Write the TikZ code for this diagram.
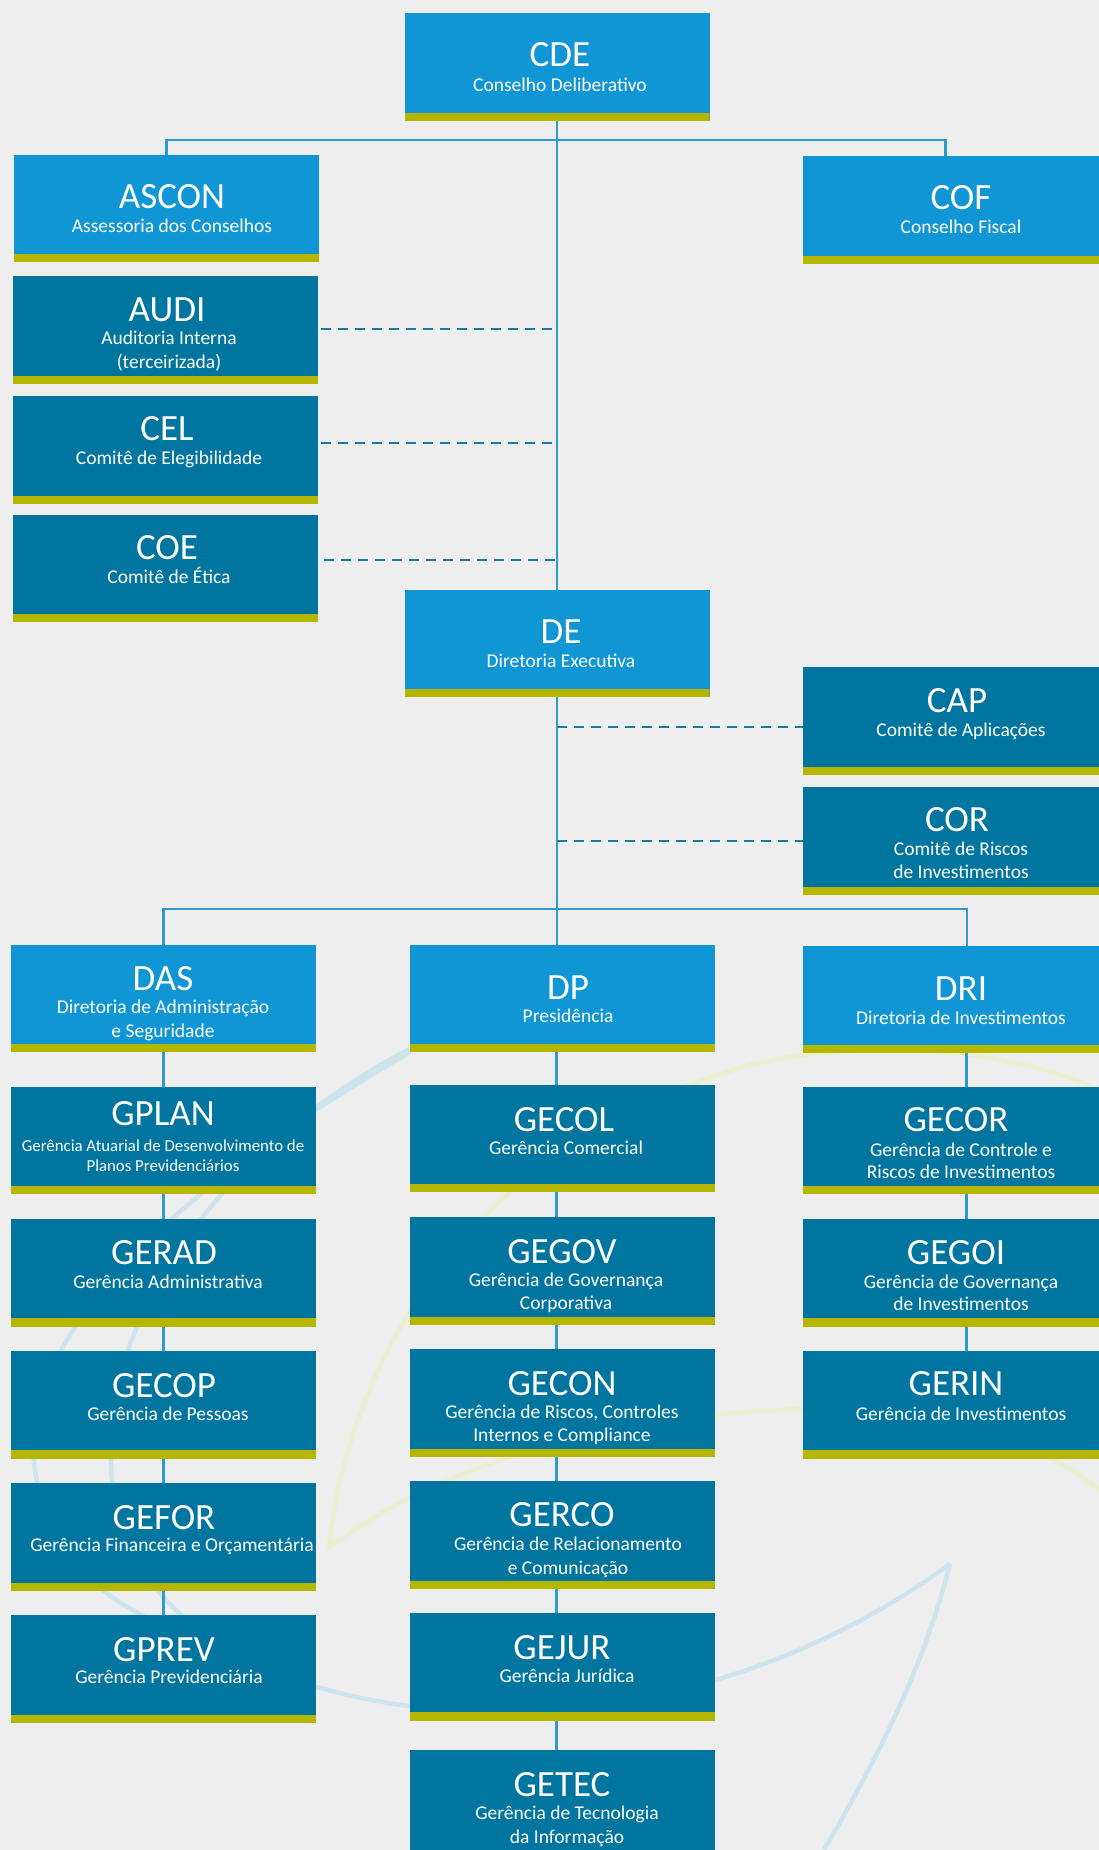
\documentclass[tikz,border=0pt]{standalone}
\usepackage{fontspec}
\setmainfont{Carlito}
\definecolor{bg}{HTML}{EEEEEE}
\definecolor{lblue}{HTML}{1096D4}
\definecolor{dteal}{HTML}{00759F}
\definecolor{olivebar}{HTML}{B5B600}
\definecolor{conn}{HTML}{2E9AD0}
\definecolor{dashc}{HTML}{1A7BA2}
\definecolor{curveblue}{HTML}{CDE4EE}
\definecolor{curveyellow}{HTML}{ECEFCF}
\begin{document}
\begin{tikzpicture}[x=1pt,y=-1pt,
  orgbox/.style={rectangle, inner sep=0pt, outer sep=0pt, minimum width=305pt, minimum height=108pt,
    path picture={\fill[olivebar] (path picture bounding box.south west) rectangle ([yshift=8.5pt]path picture bounding box.south east);}},
  lbox/.style={orgbox, fill=lblue},
  dbox/.style={orgbox, fill=dteal},
  rcol/.style={minimum width=307pt},
  ttl/.style={anchor=base, inner sep=0pt, text=white, font=\fontsize{37}{40}\selectfont},
  sub/.style={anchor=base, inner sep=0pt, text=white, font=\fontsize{19.5}{23}\selectfont},
  subsm/.style={anchor=base, inner sep=0pt, text=white, font=\fontsize{16.8}{20}\selectfont},
  connl/.style={draw=conn, line width=2.2pt},
  dashl/.style={draw=dashc, line width=2pt, dash pattern=on 10pt off 7pt},
  bgblue/.style={draw=curveblue, line width=4.5pt},
  bgyellow/.style={draw=curveyellow, line width=4.5pt},
]
\fill[bg] (0,0) rectangle (1099,1850);
\useasboundingbox (0,0) rectangle (1099,1850);

% background watermark curves
\draw[bgblue] (410,1049) .. controls (250,1130) and (95,1300) .. (112,1480) .. controls (130,1640) and (300,1705) .. (480,1712) .. controls (700,1715) and (860,1630) .. (950,1564);
\draw[bgblue] (950,1564) .. controls (920,1680) and (870,1770) .. (824,1850);
\draw[bgblue] (410,1052) .. controls (190,1180) and (15,1330) .. (35,1470) .. controls (48,1560) and (110,1605) .. (175,1630);
\draw[bgyellow] (329,1548) .. controls (350,1350) and (480,1140) .. (750,1065) .. controls (900,1030) and (1050,1060) .. (1120,1100);
\draw[bgyellow] (329,1548) .. controls (430,1470) and (600,1415) .. (803,1409) .. controls (950,1405) and (1060,1450) .. (1110,1500);

% boxes
\node[lbox] (cde) at (557,67) {};
\node[lbox, minimum height=107pt] (ascon) at (166.5,208.5) {};
\node[lbox, rcol] (cof) at (956.5,210) {};
\node[dbox] (audi) at (165.5,330) {};
\node[dbox] (cel) at (165.5,450) {};
\node[dbox, minimum height=107pt] (coe) at (165.5,568.5) {};
\node[lbox, minimum height=107pt] (de) at (557,643.5) {};
\node[dbox, rcol] (cap) at (956.5,721) {};
\node[dbox, rcol] (cor) at (956.5,841) {};
\node[lbox, minimum height=107pt] (das) at (163.5,998.5) {};
\node[lbox, minimum height=107pt] (dp) at (562.5,998.5) {};
\node[lbox, rcol, minimum height=107pt] (dri) at (956.5,999.5) {};
\node[dbox, minimum height=107pt] (gplan) at (163.5,1140.5) {};
\node[dbox, minimum height=107pt] (gecol) at (562.5,1138.5) {};
\node[dbox, rcol, minimum height=107pt] (gecor) at (956.5,1140.5) {};
\node[dbox, minimum height=107.5pt] (gerad) at (163.5,1272.75) {};
\node[dbox] (gegov) at (562.5,1271) {};
\node[dbox, rcol, minimum height=107.5pt] (gegoi) at (956.5,1272.75) {};
\node[dbox, minimum height=107.5pt] (gecop) at (163.5,1404.75) {};
\node[dbox] (gecon) at (562.5,1403) {};
\node[dbox, rcol, minimum height=107.5pt] (gerin) at (956.5,1404.75) {};
\node[dbox] (gefor) at (163.5,1537) {};
\node[dbox] (gerco) at (562.5,1535) {};
\node[dbox] (gprev) at (163.5,1669) {};
\node[dbox, minimum height=107.5pt] (gejur) at (562.5,1666.75) {};
\node[dbox] (getec) at (562.5,1804) {};

% solid connectors
\coordinate (bus1) at (557,139.6);
\coordinate (cofdrop) at ([xshift=-11pt]cof.north);
\draw[connl] (cde.south) -- (de.north);
\draw[connl] (ascon.north) |- (bus1) -| (cofdrop);
\coordinate (bus2) at (557,909);
\coordinate (dridrop) at ([xshift=10.5pt]dri.north);
\draw[connl] (de.south) -- (de.south |- dp.north);
\draw[connl] (das.north) |- (bus2) -| (dridrop);
\draw[connl] (das.south) -- (gplan.north);
\draw[connl] (gplan.south) -- (gerad.north);
\draw[connl] (gerad.south) -- (gecop.north);
\draw[connl] (gecop.south) -- (gefor.north);
\draw[connl] (gefor.south) -- (gprev.north);
\draw[connl] ([xshift=-6pt]dp.south) -- ([xshift=-6pt]gecol.north);
\draw[connl] ([xshift=-6pt]gecol.south) -- ([xshift=-6pt]gegov.north);
\draw[connl] ([xshift=-6pt]gegov.south) -- ([xshift=-6pt]gecon.north);
\draw[connl] ([xshift=-6pt]gecon.south) -- ([xshift=-6pt]gerco.north);
\draw[connl] ([xshift=-6pt]gerco.south) -- ([xshift=-6pt]gejur.north);
\draw[connl] ([xshift=-6pt]gejur.south) -- ([xshift=-6pt]getec.north);
\draw[connl] ([xshift=10pt]dri.south) -- ([xshift=10pt]gecor.north);
\draw[connl] ([xshift=10pt]gecor.south) -- ([xshift=10pt]gegoi.north);
\draw[connl] ([xshift=10pt]gegoi.south) -- ([xshift=10pt]gerin.north);

% dashed connectors
\coordinate (audid) at ([xshift=3pt,yshift=1pt]audi.east);
\coordinate (celd) at ([xshift=3pt,yshift=7pt]cel.east);
\coordinate (coed) at ([xshift=6pt,yshift=8.5pt]coe.east);
\coordinate (capd) at ([yshift=-6pt]cap.west);
\coordinate (cord) at (cor.west);
\draw[dashl] (audid) -- (audid -| de.north);
\draw[dashl] (celd) -- (celd -| de.north);
\draw[dashl] (coed) -- (coed -| de.north);
\draw[dashl] (capd -| de.south) -- (capd);
\draw[dashl] (cord -| de.south) -- (cord);

% texts
\node[ttl] (cde-t) at (560,66) {CDE};
\node[sub] (cde-s) at (560,91.5) {Conselho Deliberativo};
\node[ttl] (ascon-t) at (172,208) {ASCON};
\node[sub] (ascon-s) at (172,232) {Assessoria dos Conselhos};
\node[ttl] (cof-t) at (961,209) {COF};
\node[sub] (cof-s) at (961,233) {Conselho Fiscal};
\node[ttl] (audi-t) at (167,321.5) {AUDI};
\node[sub] (audi-s1) at (169,344.5) {Auditoria Interna};
\node[sub] (audi-s2) at (169,368) {(terceirizada)};
\node[ttl] (cel-t) at (167,440) {CEL};
\node[sub] (cel-s) at (169,464.5) {Comitê de Elegibilidade};
\node[ttl] (coe-t) at (167,559.5) {COE};
\node[sub] (coe-s) at (169,583.5) {Comitê de Ética};
\node[ttl] (de-t) at (561,643.5) {DE};
\node[sub] (de-s) at (561,667.5) {Diretoria Executiva};
\node[ttl] (cap-t) at (957,712) {CAP};
\node[sub] (cap-s) at (961,736) {Comitê de Aplicações};
\node[ttl] (cor-t) at (957,831) {COR};
\node[sub] (cor-s1) at (961,855.5) {Comitê de Riscos};
\node[sub] (cor-s2) at (961,878.5) {de Investimentos};
\node[ttl] (das-t) at (163,990.5) {DAS};
\node[sub] (das-s1) at (163,1013.5) {Diretoria de Administração};
\node[sub] (das-s2) at (163,1037) {e Seguridade};
\node[ttl] (dp-t) at (568,999) {DP};
\node[sub] (dp-s) at (568,1022.5) {Presidência};
\node[ttl] (dri-t) at (961,1000) {DRI};
\node[sub] (dri-s) at (961,1024) {Diretoria de Investimentos};
\node[ttl] (gplan-t) at (163,1125) {GPLAN};
\node[subsm] (gplan-s1) at (163,1151.5) {Gerência Atuarial de Desenvolvimento de};
\node[subsm] (gplan-s2) at (163,1171.5) {Planos Previdenciários};
\node[ttl] (gecol-t) at (564,1131) {GECOL};
\node[sub] (gecol-s) at (566,1154) {Gerência Comercial};
\node[ttl] (gecor-t) at (956,1131) {GECOR};
\node[sub] (gecor-s1) at (961,1156.5) {Gerência de Controle e};
\node[sub] (gecor-s2) at (961,1178.5) {Riscos de Investimentos};
\node[ttl] (gerad-t) at (164,1264) {GERAD};
\node[sub] (gerad-s) at (168,1288.5) {Gerência Administrativa};
\node[ttl] (gegov-t) at (562,1263) {GEGOV};
\node[sub] (gegov-s1) at (566,1286.5) {Gerência de Governança};
\node[sub] (gegov-s2) at (566,1309.5) {Corporativa};
\node[ttl] (gegoi-t) at (956,1264) {GEGOI};
\node[sub] (gegoi-s1) at (961,1288.5) {Gerência de Governança};
\node[sub] (gegoi-s2) at (961,1310.5) {de Investimentos};
\node[ttl] (gecop-t) at (164,1397) {GECOP};
\node[sub] (gecop-s) at (168,1420.5) {Gerência de Pessoas};
\node[ttl] (gecon-t) at (562,1395) {GECON};
\node[sub] (gecon-s1) at (562,1418.5) {Gerência de Riscos, Controles};
\node[sub] (gecon-s2) at (562,1441.5) {Internos e Compliance};
\node[ttl] (gerin-t) at (956,1395) {GERIN};
\node[sub] (gerin-s) at (961,1420.5) {Gerência de Investimentos};
\node[ttl] (gefor-t) at (164,1529) {GEFOR};
\node[sub] (gefor-s) at (172,1551.5) {Gerência Financeira e Orçamentária};
\node[ttl] (gerco-t) at (562,1526) {GERCO};
\node[sub] (gerco-s1) at (568,1550.5) {Gerência de Relacionamento};
\node[sub] (gerco-s2) at (568,1574.5) {e Comunicação};
\node[ttl] (gprev-t) at (164,1661) {GPREV};
\node[sub] (gprev-s) at (169,1683.5) {Gerência Previdenciária};
\node[ttl] (gejur-t) at (562,1659) {GEJUR};
\node[sub] (gejur-s) at (567,1682.5) {Gerência Jurídica};
\node[ttl] (getec-t) at (562,1796) {GETEC};
\node[sub] (getec-s1) at (567,1819.5) {Gerência de Tecnologia};
\node[sub] (getec-s2) at (567,1843) {da Informação};
\end{tikzpicture}
\end{document}
